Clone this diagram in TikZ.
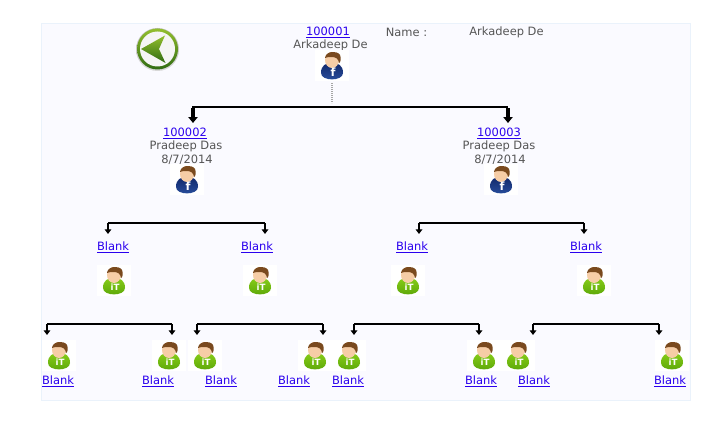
\documentclass[tikz,border=0pt]{standalone}
\usepackage{fontspec}
\setmainfont{DejaVu Sans}
\usetikzlibrary{arrows.meta}
\definecolor{panelfill}{HTML}{FAFAFF}
\definecolor{panelline}{HTML}{EAF2FB}
\definecolor{txt}{HTML}{555555}
\definecolor{lnk}{HTML}{2A00EE}
\definecolor{fbdark}{HTML}{12296B}
\definecolor{fblight}{HTML}{2A50A0}
\definecolor{itdark}{HTML}{5AA508}
\definecolor{itlight}{HTML}{86CC18}
\definecolor{skin}{HTML}{F6CDA6}
\definecolor{hair}{HTML}{7A4A1E}
\definecolor{lime}{HTML}{93BF2E}
\definecolor{deepgreen}{HTML}{2F6B12}
\tikzset{
  x=0.75pt,y=-0.75pt,
  lab/.style={inner sep=0pt,font=\fontsize{8.6pt}{9pt}\selectfont,text=txt,anchor=center},
  link/.style={lab,text=lnk},
  bar/.style={draw=black,line width=1.5pt},
  drop/.style={draw=black,line width=1.3pt,-{Triangle[length=3.5pt,width=5pt]}},
  bigdrop/.style={draw=black,line width=2.3pt,-{Triangle[length=4.5pt,width=7pt]}},
  glyphsize/.initial=6pt,
  person/.pic={
    \fill[white] (-17,-16) rectangle (17,15);
    \shade[pic actions] (-11,7) .. controls (-11,-1) and (-6,-3) .. (0,-3) .. controls (6,-3) and (11,-1) .. (11,7) .. controls (11,15.5) and (-11,15.5) .. (-11,7) -- cycle;
    \fill[skin] (0,-6) ellipse (7 and 8);
    \fill[hair] (-7,-8) .. controls (-6.5,-15) and (5,-16) .. (8,-11) .. controls (9.5,-8) and (8.5,-3) .. (7,-3) .. controls (6.5,-7) and (4,-9) .. (0,-9) .. controls (-3,-9) and (-5.5,-9) .. (-7,-8) -- cycle;
    \node[inner sep=0pt,text=white,font=\bfseries\fontsize{\pgfkeysvalueof{/tikz/glyphsize}}{8pt}\selectfont] at (1,6.5) {\tikzpictext};
  },
  fb/.style={top color=fbdark,bottom color=fblight,pic text=f,glyphsize=8.5pt},
  it/.style={top color=itlight,bottom color=itdark,pic text=iT,glyphsize=6.5pt},
}
\newcommand{\ulink}[1]{\underline{#1}}
\begin{document}
\begin{tikzpicture}
\useasboundingbox (0,0) rectangle (713,435);
\fill[white] (0,0) rectangle (713,435);
\draw[panelline,fill=panelfill,line width=0.75pt] (41.5,23.5) rectangle (690.5,400);

% back button
\shade[top color=black!25,bottom color=black!15] (157.5,49.5) circle (21.5);
\shade[top color=lime,bottom color=deepgreen] (157.5,49) circle (20.5);
\fill[black!4] (157.5,49) circle (17.5);
\shade[top color=lime,bottom color=deepgreen] (141,49) -- (165,35.5) -- (159,49) -- (165.5,63) -- cycle;

% top
\node[link] (n1) at (328,32.5) {\ulink{100001}};
\node[lab] (n1name) at (330.5,45.5) {Arkadeep De};
\pic[fb] at (332,66) {person};
\node[lab] (hname) at (406.5,32.5) {Name :};
\node[lab] (hval) at (506.5,32.5) {Arkadeep De};

\coordinate (dotA) at (332,83);
\coordinate (dotB) at (332,103);
\draw[draw=black!35,line width=1.1pt,dash pattern=on 0.8pt off 0.7pt] (dotA) -- (dotB);

% level 2
\coordinate (L2a) at (192,107);
\coordinate (L2b) at (508,107);
\coordinate (L2aS) at (193,108);
\coordinate (L2bS) at (508,108);
\coordinate (L2aE) at (193,123);
\coordinate (L2bE) at (508,123);
\draw[bar,line width=1.9pt] (L2a) -- (L2b);
\draw[bigdrop] (L2aS) -- (L2aE);
\draw[bigdrop] (L2bS) -- (L2bE);

\node[link] (n2) at (185,133.5) {\ulink{100002}};
\node[lab] (n2name) at (186,146.5) {Pradeep Das};
\node[lab] (n2date) at (187,159.5) {8/7/2014};
\pic[fb] at (187,180) {person};
\node[link] (n3) at (499,133.5) {\ulink{100003}};
\node[lab] (n3name) at (499,146.5) {Pradeep Das};
\node[lab] (n3date) at (500,159.5) {8/7/2014};
\pic[fb] at (501,180) {person};

% level 3
\foreach \xa/\xb in {108/265,419/584}{
  \coordinate (a) at (\xa,223);
  \coordinate (b) at (\xb,223);
  \draw[bar] (a) -- (b);
  \draw[drop] (a) -- (\xa,234);
  \draw[drop] (b) -- (\xb,234);
}
\foreach \i/\x in {a/113,b/257,c/412,d/586}{
  \node[link] (blank3\i) at (\x,247.5) {\ulink{Blank}};
}
\foreach \x in {114,260,408,594}{
  \pic[it] at (\x,281) {person};
}

% level 4
\foreach \xa/\xb in {47/172,197/323,354/479,533/659}{
  \coordinate (a) at (\xa,324);
  \coordinate (b) at (\xb,324);
  \draw[bar] (a) -- (b);
  \draw[drop] (a) -- (\xa,335);
  \draw[drop] (b) -- (\xb,335);
}
\foreach \x in {59,169,205,315,349,484,518,672}{
  \pic[it] at (\x,356) {person};
}
\foreach \i/\x in {a/58,b/158,c/221,d/294,e/348,f/481,g/534,h/670}{
  \node[link] (blank4\i) at (\x,381.5) {\ulink{Blank}};
}
\end{tikzpicture}
\end{document}
